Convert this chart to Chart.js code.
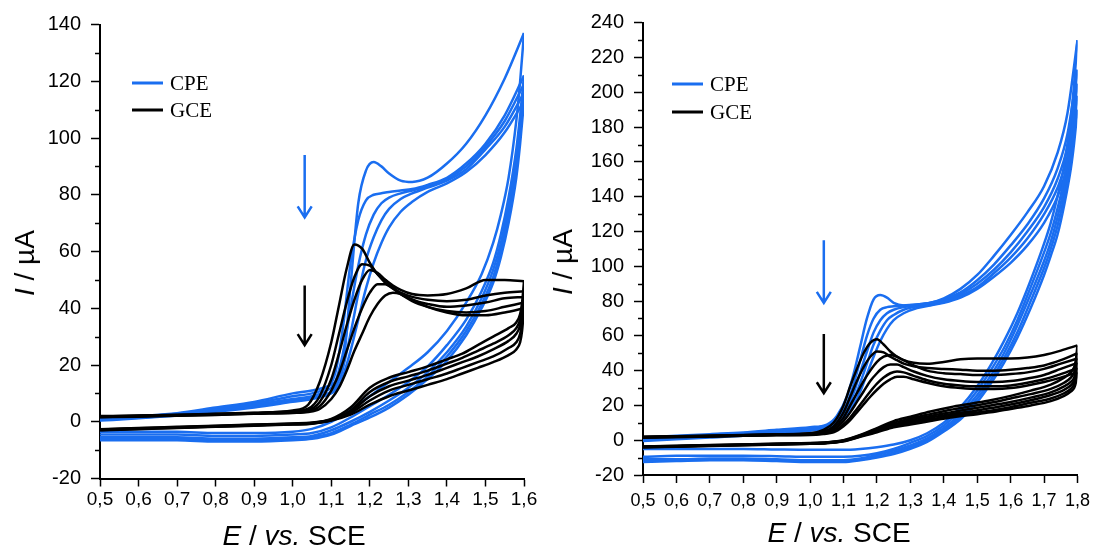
<!DOCTYPE html>
<html lang="en">
<head>
<meta charset="UTF-8">
<title>CPE / GCE voltammograms</title>
<script src="https://cdn.jsdelivr.net/npm/chart.js"></script>
<style>
  body { margin: 0; background: #fff; }
  #wrap { position: relative; width: 1097px; height: 549px; overflow: hidden; font-family: "Liberation Sans", Arial, sans-serif; color: #000; }
  canvas { position: absolute; top: 0; }
  .leg { position: absolute; display: flex; align-items: center; transform: translateY(-50%); font-family: "Liberation Serif", "Times New Roman", serif; font-size: 21px; line-height: 1; white-space: nowrap; }
  .leg span { display: inline-block; width: 31px; height: 3px; margin-right: 7px; }
  .xt { position: absolute; font-size: 28px; line-height: 28px; white-space: nowrap; transform: translateX(-50%); }
  .yt { position: absolute; font-size: 28px; line-height: 28px; white-space: nowrap; transform: translate(-50%, -50%) rotate(-90deg); }
</style>
</head>
<body>
<div id="wrap">
  <canvas id="left" width="548" height="549" style="left:0"></canvas>
  <canvas id="right" width="549" height="549" style="left:548px"></canvas>

  <div class="leg" style="left:132px; top:83px"><span style="background:#1a6ef0"></span>CPE</div>
  <div class="leg" style="left:132px; top:110px"><span style="background:#000"></span>GCE</div>
  <div class="leg" style="left:672px; top:84px"><span style="background:#1a6ef0"></span>CPE</div>
  <div class="leg" style="left:672px; top:112px"><span style="background:#000"></span>GCE</div>

  <div class="xt" style="left:294px; top:522px"><i>E</i> / <i>vs.</i> SCE</div>
  <div class="xt" style="left:839px; top:519px"><i>E</i> / <i>vs.</i> SCE</div>
  <div class="yt" style="left:25px; top:263px"><i>I</i> / µA</div>
  <div class="yt" style="left:563px; top:262px"><i>I</i> / µA</div>
</div>

<script>
// ---------- left panel (0.5 - 1.6 V) ----------
const cpeFwdE_L = [0.50, 0.60, 0.70, 0.80, 0.90, 1.00, 1.05, 1.08, 1.11, 1.13, 1.15, 1.17, 1.19, 1.21, 1.23, 1.25, 1.28, 1.31, 1.35, 1.40, 1.45, 1.50, 1.55, 1.60];
const cpeFwd_L = [
  [1.2, 2, 3, 5, 7, 10, 11, 12, 14, 19, 48, 77, 88.5, 91.5, 90, 87.5, 85, 84.5, 86, 91, 98, 108, 121, 137],
  [1, 1.8, 2.8, 4.5, 6.5, 9, 10, 11.5, 17, 33, 56, 71, 78, 80, 80.5, 81, 81.5, 82, 83.5, 86, 91, 98, 108, 122],
  [0.8, 1.6, 2.6, 4, 6, 8, 9, 10.5, 14, 24, 40, 55, 66, 73, 77, 79, 80.5, 81.5, 83, 85.5, 90, 97, 106, 119],
  [0.6, 1.4, 2.4, 3.8, 5.5, 7.5, 8.5, 9.5, 12, 19, 31, 45, 57, 65, 71, 75, 78.5, 80.5, 82.5, 85, 89, 96, 104, 116],
  [0.4, 1.2, 2.2, 3.5, 5, 7, 8, 9, 11, 16, 25, 36, 47, 56, 63, 68.5, 74, 77.5, 81, 84, 88, 94, 102, 113]
];
const cpeRevE_L = [1.60, 1.59, 1.58, 1.56, 1.54, 1.52, 1.49, 1.45, 1.40, 1.35, 1.30, 1.25, 1.20, 1.15, 1.10, 1.05, 1.00, 0.90, 0.80, 0.70, 0.60, 0.50];
const cpeRev_L = [
  [137, 120, 106, 86, 73, 63, 52, 42, 32, 24.5, 19, 14, 9, 4, 0, -2.5, -3.5, -4, -4, -3.5, -3.5, -3.5],
  [122, 108, 96, 79, 66, 56, 46, 36, 27, 19.5, 14, 9.5, 5.5, 1.5, -2, -4, -4.5, -5, -5, -4.5, -4.5, -4.5],
  [119, 104, 92, 76, 63, 53.5, 43.5, 33.5, 24.5, 17.5, 12, 7.5, 3.5, 0, -3, -5, -5.5, -6, -6, -5.5, -5.5, -5.5],
  [116, 101, 89, 73, 60.5, 51, 41.5, 32, 23, 16, 10.5, 6, 2.5, -1, -4, -5.5, -6, -6.5, -6.5, -6, -6, -6],
  [113, 98, 86, 70, 58, 49, 40, 30.5, 21.5, 15, 9.5, 5, 1.5, -1.5, -4.5, -6, -6.5, -7, -7, -6.5, -6.5, -6.5]
];
const gceFwdE_L = [0.50, 0.60, 0.70, 0.80, 0.90, 1.00, 1.04, 1.07, 1.10, 1.12, 1.14, 1.16, 1.18, 1.20, 1.22, 1.24, 1.26, 1.28, 1.31, 1.35, 1.40, 1.45, 1.50, 1.55, 1.60];
const gceFwd_L = [
  [2, 2.2, 2.5, 2.8, 3.2, 4, 6, 14, 28, 41, 54, 62.5, 61, 56, 52, 50, 48, 46.5, 45, 44.5, 45, 47, 50, 50, 49.5],
  [1.9, 2.1, 2.4, 2.7, 3.1, 3.7, 4.6, 9, 20, 31, 42, 51, 55.5, 55, 52, 49, 47, 45.5, 44, 43, 42.5, 43, 44.5, 45.5, 46],
  [1.8, 2, 2.3, 2.6, 3, 3.5, 4.1, 7, 15, 24, 34, 43, 50, 53.5, 52.5, 50, 47.5, 45, 43, 41.5, 40.5, 41, 42, 43.5, 44],
  [1.7, 1.9, 2.2, 2.5, 2.9, 3.3, 3.7, 5.5, 11, 17, 25, 33, 40, 45.5, 48.5, 48.5, 47, 45, 42.5, 40.5, 39, 38.5, 39, 40.5, 42],
  [1.6, 1.8, 2.1, 2.4, 2.8, 3.1, 3.4, 4.5, 8, 12, 18, 25, 31, 37, 41.5, 44.5, 45.5, 45, 43, 40.5, 38.5, 37.5, 37.5, 38.5, 40]
];
const gceRevE_L = [1.60, 1.595, 1.59, 1.58, 1.56, 1.52, 1.48, 1.44, 1.40, 1.35, 1.30, 1.25, 1.20, 1.15, 1.10, 1.05, 1.00, 0.90, 0.80, 0.70, 0.60, 0.50];
const gceRev_L = [
  [49.5, 42, 38, 35, 33, 30, 27, 24, 22, 19.5, 17.5, 15.5, 12, 5, 1, -0.3, -0.6, -1, -1.4, -1.8, -2.2, -2.6],
  [46, 40, 36, 33, 30.5, 27.5, 25, 22.5, 20.5, 18, 16, 14, 10.5, 4, 0.8, -0.4, -0.7, -1.1, -1.5, -1.9, -2.3, -2.7],
  [44, 38, 34, 31, 28.5, 25.5, 23, 21, 19, 16.5, 14.5, 12.5, 9, 3.5, 0.6, -0.5, -0.8, -1.2, -1.6, -2, -2.4, -2.8],
  [42, 35, 31, 28, 26, 23, 21, 19, 17, 15, 13, 11, 7.5, 3, 0.5, -0.6, -0.9, -1.3, -1.7, -2.1, -2.5, -2.9],
  [40, 32, 28, 25.5, 23.5, 21, 19, 17, 15, 13, 11, 9, 6, 2.5, 0.4, -0.7, -1, -1.4, -1.8, -2.2, -2.6, -3]
];
// arrows: [E, from I, to I, series]
const arrows_L = [[1.031, 94, 72, 'CPE'], [1.031, 48, 27, 'GCE']];

// ---------- right panel (0.5 - 1.8 V) ----------
const cpeFwdE_R = [0.50, 0.60, 0.70, 0.80, 0.90, 1.00, 1.05, 1.08, 1.11, 1.13, 1.15, 1.17, 1.19, 1.21, 1.23, 1.25, 1.28, 1.32, 1.36, 1.40, 1.45, 1.50, 1.55, 1.60, 1.65, 1.70, 1.74, 1.77, 1.80];
const cpeFwd_R = [
  [1.5, 2.5, 3.5, 4.5, 6, 7.5, 9, 14, 25, 38, 54, 70, 81, 83.5, 82, 79, 77.5, 78, 79, 81.5, 87, 95, 106, 118, 131, 146, 165, 188, 230],
  [1, 2, 3, 4, 5.5, 7, 8.5, 12, 21, 32, 46, 60, 70, 75, 76.5, 77, 77.5, 78, 79, 81, 85, 92, 101, 112, 124, 139, 156, 176, 213],
  [0.5, 1.5, 2.5, 3.5, 5, 6.5, 8, 11, 18, 27, 39, 51, 62, 69, 73, 75, 76.5, 77.5, 78.5, 80, 84, 90, 98, 108, 120, 134, 150, 169, 205],
  [0, 1, 2, 3, 4.5, 6, 7.5, 10, 16, 23, 33, 44, 55, 63, 69, 72, 75, 77, 78, 79.5, 83, 88, 96, 105, 116, 130, 145, 163, 198],
  [-0.5, 0.5, 1.5, 2.5, 4, 5.5, 7, 9.5, 14, 20, 28, 38, 48, 57, 64, 69, 73, 76, 77.5, 79, 82, 87, 94, 102, 112, 125, 140, 158, 190]
];
const cpeRevE_R = [1.80, 1.79, 1.78, 1.76, 1.74, 1.72, 1.70, 1.66, 1.62, 1.58, 1.54, 1.50, 1.45, 1.40, 1.35, 1.30, 1.25, 1.20, 1.15, 1.10, 1.05, 1.00, 0.90, 0.80, 0.70, 0.60, 0.50];
const cpeRev_R = [
  [230, 205, 185, 158, 140, 125, 113, 92, 73, 57, 43, 31, 19, 10, 4, 0, -2.5, -4, -5, -5.5, -5.5, -5.5, -5.3, -5, -5, -5, -5],
  [213, 192, 175, 150, 133, 119, 108, 88, 69, 53, 40, 28.5, 17, 8.5, 2.5, -1.5, -5, -7.5, -9, -9.5, -9.5, -9.5, -9.2, -9, -9, -9, -9.5],
  [205, 185, 168, 145, 128, 114, 103, 84, 66, 50, 37, 26, 15, 7, 1, -3, -6, -8.5, -10.5, -11.5, -11.5, -11.5, -11, -10.5, -10.5, -11, -11],
  [198, 178, 162, 140, 123, 110, 99, 80, 62, 47, 34.5, 24, 13.5, 6, 0, -4, -7, -9.5, -11, -12, -12, -12, -11.5, -11, -11, -11.5, -12],
  [190, 171, 156, 135, 118, 106, 95, 76, 59, 44.5, 32.5, 22, 12, 5, -1, -5, -8, -10, -11.5, -12.5, -12.5, -12.5, -12, -11.5, -11.5, -12, -12.5]
];
const gceFwdE_R = [0.50, 0.60, 0.70, 0.80, 0.90, 1.00, 1.04, 1.07, 1.10, 1.12, 1.14, 1.16, 1.18, 1.20, 1.22, 1.24, 1.26, 1.28, 1.31, 1.35, 1.40, 1.45, 1.50, 1.55, 1.60, 1.65, 1.70, 1.75, 1.80];
const gceFwd_R = [
  [2, 2.3, 2.6, 3, 3.4, 4, 6, 10, 20, 31, 41, 50, 56, 58, 55, 51, 48, 46, 44.5, 44, 45, 46.5, 47, 47, 47, 47.5, 49, 51.5, 54.5],
  [1.9, 2.2, 2.5, 2.9, 3.3, 3.8, 5, 8, 16, 25, 34, 42, 48, 51, 50.5, 48, 46, 44, 42.5, 41.5, 41, 40.5, 40, 40, 40.5, 41.5, 43, 46, 50],
  [1.8, 2.1, 2.4, 2.8, 3.2, 3.6, 4.5, 7, 13, 20, 27, 34, 40, 45, 48, 49, 48, 46, 43, 40, 38.5, 38, 37.5, 37.5, 38, 39, 41, 44, 47],
  [1.7, 2, 2.3, 2.7, 3.1, 3.4, 4.2, 6, 11, 16, 22, 28, 34, 38.5, 42, 43.5, 43.5, 42, 39.5, 37, 35, 34, 33.5, 33.5, 34, 35.5, 37.5, 41, 44.5],
  [1.6, 1.9, 2.2, 2.6, 3, 3.2, 3.9, 5, 9, 13, 18, 23, 28, 32.5, 36, 38.5, 39.5, 39, 37, 34.5, 32.5, 31.5, 31, 31, 31.5, 33, 35, 38, 41.5],
  [1.5, 1.8, 2.1, 2.5, 2.9, 3, 3.6, 4.5, 8, 11.5, 16, 20.5, 25, 29, 32.5, 35, 36.5, 36.5, 35, 33, 31, 30, 29.5, 29.5, 30, 31.5, 33.5, 36, 39]
];
const gceRevE_R = [1.80, 1.795, 1.79, 1.78, 1.76, 1.72, 1.66, 1.60, 1.54, 1.48, 1.42, 1.36, 1.30, 1.25, 1.20, 1.15, 1.10, 1.05, 1.00, 0.90, 0.80, 0.70, 0.60, 0.50];
const gceRev_R = [
  [54.5, 46, 42, 39, 36, 32, 28.5, 25.5, 23, 21, 19, 16.5, 13.5, 11, 7, 3, 0, -1.2, -1.6, -2, -2.4, -2.8, -3.2, -3.6],
  [50, 43, 39, 36, 33, 29.5, 26.5, 24, 21.5, 19.5, 17.5, 15, 12.5, 10, 6.5, 2.8, -0.2, -1.3, -1.7, -2.1, -2.5, -2.9, -3.3, -3.7],
  [47, 40, 36, 33.5, 31, 27.5, 24.5, 22, 20, 18, 16, 14, 11.5, 9, 6, 2.6, -0.3, -1.4, -1.8, -2.2, -2.6, -3, -3.4, -3.8],
  [44.5, 37, 34, 31.5, 29, 26, 23, 20.5, 18.5, 16.5, 15, 13, 10.5, 8.5, 5.5, 2.4, -0.4, -1.5, -1.9, -2.3, -2.7, -3.1, -3.5, -3.9],
  [41.5, 35, 32, 29.5, 27, 24, 21.5, 19, 17, 15.5, 14, 12, 10, 8, 5, 2.2, -0.5, -1.6, -2, -2.4, -2.8, -3.2, -3.6, -4],
  [39, 33, 30, 28, 25.5, 22.5, 20, 18, 16, 14.5, 13, 11, 9, 7.5, 4.5, 2, -0.6, -1.7, -2.1, -2.5, -2.9, -3.3, -3.7, -4.1]
];
const arrows_R = [[1.041, 115, 79, 'CPE'], [1.041, 61, 27, 'GCE']];

const colors = { CPE: '#1a6ef0', GCE: '#000000' };
const FONT = '"Liberation Sans", Arial, sans-serif';

// one dataset per scan branch, so the turning point at the vertex stays sharp
function branches(label, fwdE, fwd, revE, rev) {
  const sets = [];
  fwd.forEach((ys, i) => {
    sets.push({ label, data: fwdE.map((x, j) => ({ x, y: ys[j] })) });
    sets.push({ label, data: revE.map((x, j) => ({ x, y: rev[i][j] })) });
  });
  return sets.map(s => Object.assign(s, {
    showLine: true, fill: false, borderColor: colors[label], borderWidth: 2.5,
    pointRadius: 0, cubicInterpolationMode: 'monotone'
  }));
}

// minor y ticks + the two arrows
const extras = {
  id: 'extras',
  afterDraw(chart, args, opts) {
    const { ctx, scales: { x, y } } = chart;
    ctx.save();
    ctx.strokeStyle = '#000';
    ctx.lineWidth = 1.5;
    for (let v = y.min + opts.minor; v < y.max; v += 2 * opts.minor) {
      const py = Math.round(y.getPixelForValue(v)) + 0.5;
      ctx.beginPath();
      ctx.moveTo(y.right - 5, py);
      ctx.lineTo(y.right, py);
      ctx.stroke();
    }
    ctx.lineWidth = 2.5;
    opts.arrows.forEach(([e, from, to, s]) => {
      const px = x.getPixelForValue(e);
      const p1 = y.getPixelForValue(from);
      const p2 = y.getPixelForValue(to);
      ctx.strokeStyle = colors[s];
      ctx.beginPath();
      ctx.moveTo(px, p1);
      ctx.lineTo(px, p2);
      ctx.moveTo(px - 7, p2 - 11);
      ctx.lineTo(px, p2);
      ctx.lineTo(px + 7, p2 - 11);
      ctx.stroke();
    });
    ctx.restore();
  }
};

function makeChart(id, c) {
  return new Chart(document.getElementById(id), {
    type: 'scatter',
    data: { datasets: c.datasets },
    options: {
      responsive: false,
      animation: false,
      layout: { padding: { top: c.padTop, right: c.padRight, bottom: 0, left: 0 } },
      plugins: {
        legend: { display: false },
        tooltip: { enabled: false },
        extras: { minor: 10, arrows: c.arrows }
      },
      scales: {
        x: {
          type: 'linear', min: 0.5, max: c.xMax,
          afterFit: s => { s.height = c.xHeight; },
          border: { color: '#000', width: 2 },
          grid: { drawOnChartArea: false, tickLength: 8, tickColor: '#000', tickWidth: 1.5 },
          ticks: {
            stepSize: 0.1, autoSkip: false, maxRotation: 0, padding: c.xPad, color: '#000',
            font: { family: FONT, size: c.xFont },
            callback: v => v.toFixed(1).replace('.', ',')
          }
        },
        y: {
          min: -20, max: c.yMax,
          afterFit: s => { s.width = c.yWidth; },
          border: { color: '#000', width: 2 },
          grid: { drawOnChartArea: false, tickLength: 9, tickColor: '#000', tickWidth: 1.5 },
          ticks: { stepSize: 20, padding: 10, color: '#000', font: { family: FONT, size: 20 } }
        }
      }
    },
    plugins: [extras]
  });
}

makeChart('left', {
  datasets: [...branches('GCE', gceFwdE_L, gceFwd_L, gceRevE_L, gceRev_L),
             ...branches('CPE', cpeFwdE_L, cpeFwd_L, cpeRevE_L, cpeRev_L)],
  arrows: arrows_L, xMax: 1.6, yMax: 140,
  padTop: 24.5, padRight: 24, xHeight: 70.5, yWidth: 100, xFont: 19, xPad: 2
});

makeChart('right', {
  datasets: [...branches('GCE', gceFwdE_R, gceFwd_R, gceRevE_R, gceRev_R),
             ...branches('CPE', cpeFwdE_R, cpeFwd_R, cpeRevE_R, cpeRev_R)],
  arrows: arrows_R, xMax: 1.8, yMax: 240,
  padTop: 22.75, padRight: 16, xHeight: 74, yWidth: 95, xFont: 18, xPad: 7
});
</script>
</body>
</html>
